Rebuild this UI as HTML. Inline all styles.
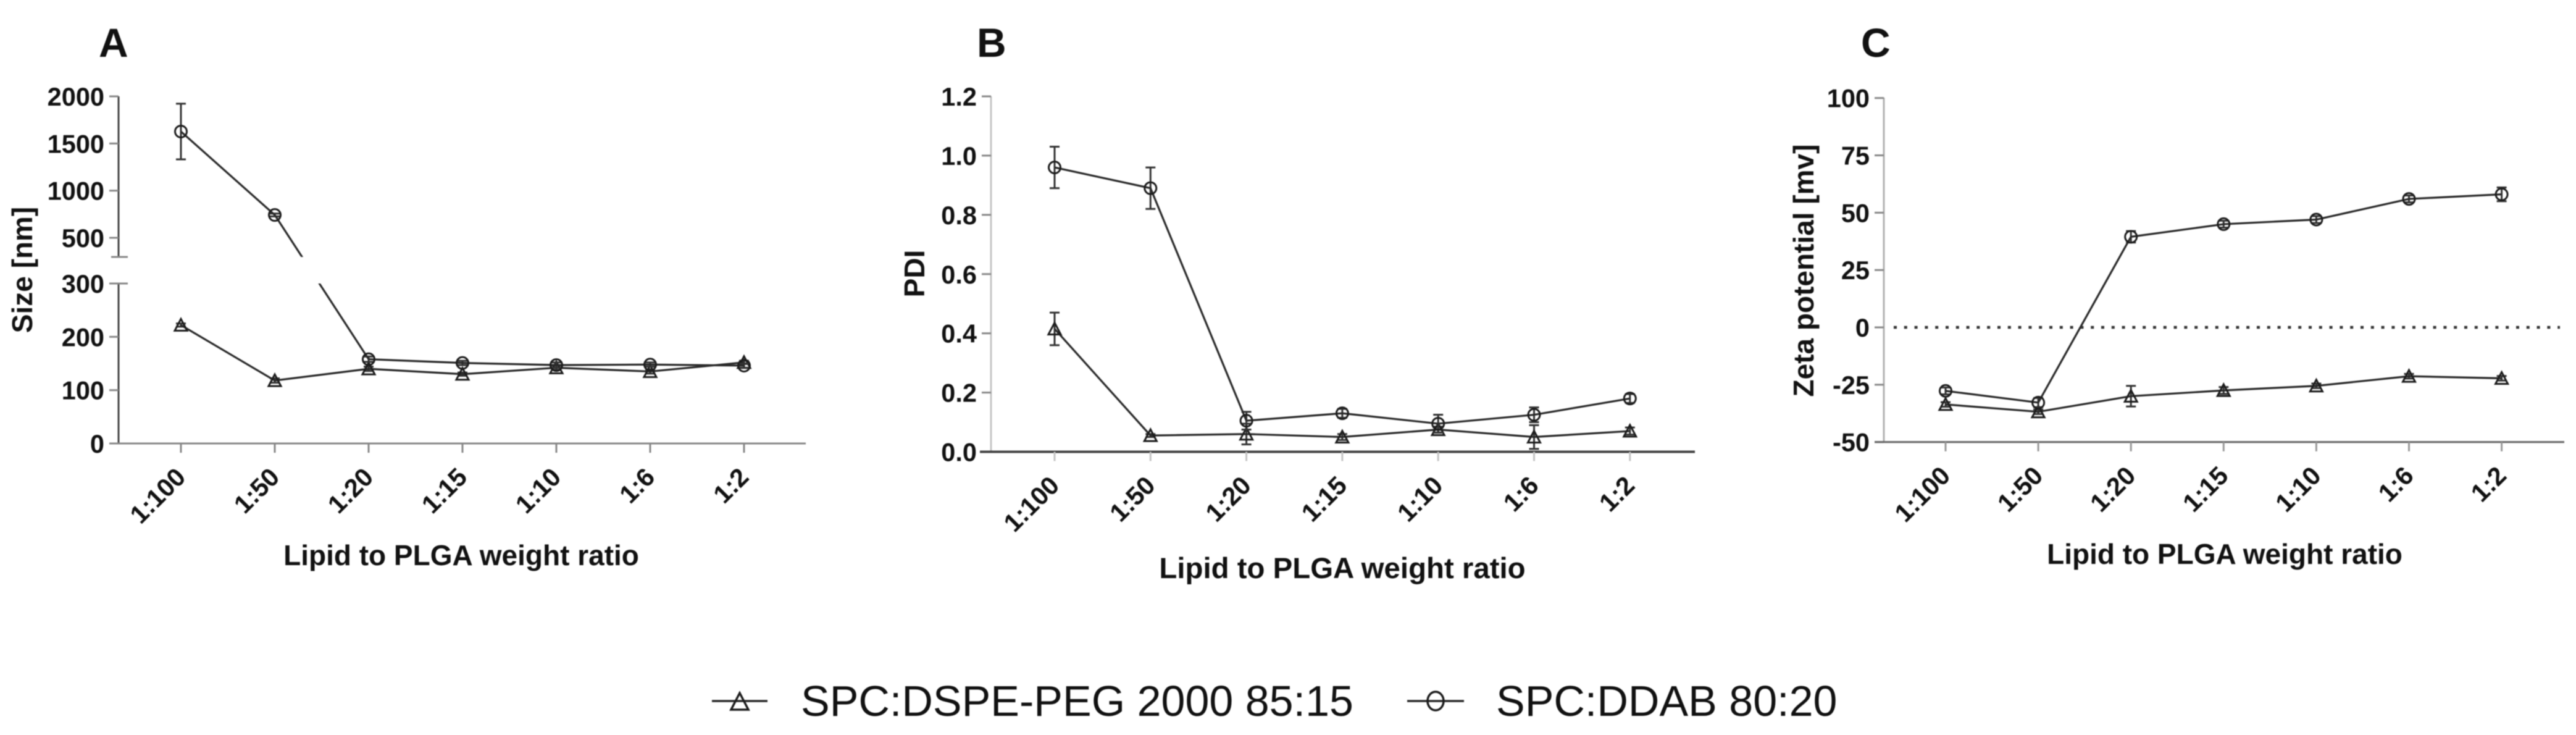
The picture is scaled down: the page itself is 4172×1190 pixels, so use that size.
<!DOCTYPE html>
<html lang="en">
<head>
<meta charset="utf-8">
<title>Lipid to PLGA weight ratio charts</title>
<style>
html,body{margin:0;padding:0;background:#fff;}
#figure{display:block;width:4172px;height:1190px;filter:blur(0.9px);}
text{font-family:"Liberation Sans",sans-serif;fill:#111;}
.tick-label{font-weight:bold;font-size:41.5px;}
.axis-title{font-weight:bold;font-size:46px;}
.panel-letter{font-weight:bold;font-size:66px;}
.legend-label{font-size:70px;}
</style>
</head>
<body>
<svg id="figure" xmlns="http://www.w3.org/2000/svg" width="4172" height="1190" viewBox="0 0 4172 1190">
<defs>
<clipPath id="clip-upper"><rect x="0" y="0" width="1400" height="416"/></clipPath>
<clipPath id="clip-lower"><rect x="0" y="459" width="1400" height="400"/></clipPath>
</defs>
</svg>
<script>
var categories = ['1:100', '1:50', '1:20', '1:15', '1:10', '1:6', '1:2'];
var seriesNames = ['SPC:DSPE-PEG 2000 85:15', 'SPC:DDAB 80:20'];

var sizePeg = [222, 118, 140, 130, 142, 135, 152];
var sizePegErr = [3, 4, 4, 3, 4, 4, 3];
var sizeDdab = [1627, 742, 158, 151, 147, 148, 146];
var sizeDdabErr = [295, 15, 5, 4, 5, 4, 4];
var sizeTicksUpper = [2000, 1500, 1000, 500];
var sizeTicksLower = [300, 200, 100, 0];

var pdiPeg = [0.415, 0.055, 0.06, 0.05, 0.075, 0.05, 0.07];
var pdiPegErr = [0.055, 0.005, 0.035, 0.01, 0.01, 0.04, 0.012];
var pdiDdab = [0.96, 0.89, 0.105, 0.13, 0.095, 0.125, 0.18];
var pdiDdabErr = [0.07, 0.07, 0.03, 0.015, 0.03, 0.025, 0.015];
var pdiTicks = [1.2, 1.0, 0.8, 0.6, 0.4, 0.2, 0.0];

var zetaPeg = [-33.6, -36.8, -30, -27.5, -25.5, -21.3, -22.2];
var zetaPegErr = [1, 1, 4.5, 1.5, 1, 1, 1];
var zetaDdab = [-27.7, -32.8, 39.5, 45, 47, 56, 58];
var zetaDdabErr = [1.5, 2, 2.5, 1.5, 1.5, 1.5, 3];
var zetaTicks = [100, 75, 50, 25, 0, -25, -50];

var svg = document.getElementById('figure');
var NS = 'http://www.w3.org/2000/svg';
var INK = '#2a2a2a';

function make(tag, attrs, parent) {
  var el = document.createElementNS(NS, tag);
  for (var k in attrs) { el.setAttribute(k, attrs[k]); }
  (parent || svg).appendChild(el);
  return el;
}
function line(x1, y1, x2, y2, color, width, parent) {
  return make('line', {x1: x1, y1: y1, x2: x2, y2: y2, stroke: color, 'stroke-width': width}, parent);
}
function label(str, x, y, cls, anchor, transform, parent) {
  var attrs = {x: x, y: y, 'class': cls, 'text-anchor': anchor};
  if (transform) { attrs.transform = transform; }
  var el = make('text', attrs, parent);
  el.textContent = str;
  return el;
}
function triangle(cx, cy, parent) {
  return make('path', {d: 'M' + cx + ' ' + (cy - 10) + 'L' + (cx + 10) + ' ' + (cy + 9) + 'L' + (cx - 10) + ' ' + (cy + 9) + 'Z',
    fill: 'none', stroke: '#1c1c1c', 'stroke-width': 3}, parent);
}
function circle(cx, cy, parent) {
  return make('circle', {cx: cx, cy: cy, r: 9.5, fill: 'none', stroke: '#1c1c1c', 'stroke-width': 3}, parent);
}

function drawXAxis(g, xOf, axisY, left, right, color, axisWidth, tickColor) {
  var axis = line(left, axisY, right, axisY, color, axisWidth, g);
  
  
  categories.forEach(function (cat, i) {
    var x = xOf(i);
    var tick = line(x, axisY, x, axisY + 15, tickColor, 3, g);
    
    
    var bx = x + 10, by = axisY + 57;
    var t = label(cat, bx, by, 'tick-label', 'end', 'rotate(-45 ' + bx + ' ' + by + ')', g);
    
    
  });
}
function drawYTicks(g, ticks, yOf, axisX, decimals) {
  ticks.forEach(function (v) {
    var y = yOf(v);
    var tick = line(axisX - 15, y, axisX, y, '#888', 3, g);
    
    
    var t = label(v.toFixed(decimals), axisX - 23, y + 15, 'tick-label', 'end', null, g);
    
    
  });
}
function drawErrors(g, vals, errs, xOf, yOf) {
  vals.forEach(function (v, i) {
    var x = xOf(i), y1 = yOf(v + errs[i]), y2 = yOf(v - errs[i]);
    var bar = make('path', {d: 'M' + (x - 8) + ' ' + y1 + 'H' + (x + 8) + 'M' + x + ' ' + y1 + 'V' + y2 + 'M' + (x - 8) + ' ' + y2 + 'H' + (x + 8),
      fill: 'none', stroke: '#333', 'stroke-width': 3}, g);
    
    
  });
}
function polyPoints(vals, xOf, yOf) {
  return vals.map(function (v, i) { return xOf(i) + ',' + yOf(v); }).join(' ');
}
function drawSeries(g, name, vals, errs, xOf, yOf, marker, clips) {
  var sg = make('g', {}, g);
  
  
  drawErrors(sg, vals, errs, xOf, yOf);
  (clips || [null]).forEach(function (clip) {
    var attrs = {points: polyPoints(vals, xOf, yOf), fill: 'none', stroke: INK, 'stroke-width': 3.2};
    if (clip) { attrs['clip-path'] = 'url(#' + clip + ')'; }
    var pl = make('polyline', attrs, sg);
    
    
  });
  vals.forEach(function (v, i) {
    var m = marker(xOf(i), yOf(v), sg);
    
    
  });
}
function drawCommonText(g, letter, letterX, xTitle, xTitleX, xTitleY, xTitleSize, yTitle, yTitleX, yTitleY) {
  var a = label(letter, letterX, 92, 'panel-letter', 'start', null, g);
  
  
  var b = label(xTitle, xTitleX, xTitleY, 'axis-title', 'middle', null, g);
  b.style.fontSize = xTitleSize + 'px';
  
  
  var c = label(yTitle, yTitleX, yTitleY, 'axis-title', 'middle', 'rotate(-90 ' + yTitleX + ' ' + yTitleY + ')', g);
  
  
}

/* Panel A: size, broken y axis */
(function () {
  var g = make('g', {});
  
  
  var axisX = 192;
  function xOf(i) { return 293 + i * 152; }
  function yUpper(v) { return 156 + (2000 - v) * (229 / 1500); }
  function yLower(v) { return 718 - v * (259 / 300); }
  function yOf(v) { return v >= 304 ? yUpper(v) : yLower(v); }
  drawCommonText(g, 'A', 160, 'Lipid to PLGA weight ratio', 747, 915, 46, 'Size [nm]', 52, 437);
  var upper = line(axisX, 156, axisX, 416, '#444', 3, g);
  
  
  var lower = line(axisX, 459, axisX, 718, '#444', 3, g);
  
  
  drawYTicks(g, sizeTicksUpper, yUpper, axisX, 0);
  drawYTicks(g, sizeTicksLower, yLower, axisX, 0);
  var b1 = line(180, 416, 207, 416, '#888', 3, g);
  
  
  var b2 = line(180, 459, 207, 459, '#888', 3, g);
  
  
  drawXAxis(g, xOf, 718, 177, 1305, '#888', 3, '#888');
  drawSeries(g, 'series-peg', sizePeg, sizePegErr, xOf, yOf, triangle, ['clip-lower']);
  drawSeries(g, 'series-ddab', sizeDdab, sizeDdabErr, xOf, yOf, circle, ['clip-upper', 'clip-lower']);
})();

/* Panel B: PDI */
(function () {
  var g = make('g', {});
  
  
  var axisX = 1605;
  function xOf(i) { return 1708 + i * 155.3; }
  function yOf(v) { return 731.5 - v * (575.5 / 1.2); }
  drawCommonText(g, 'B', 1582, 'Lipid to PLGA weight ratio', 2174, 936, 47.4, 'PDI', 1497, 443);
  var ax = line(axisX, 156, axisX, 731, '#c4c4c4', 3, g);
  
  
  drawYTicks(g, pdiTicks, yOf, axisX, 1);
  drawXAxis(g, xOf, 731.5, 1587, 2745, '#444', 4, '#c4c4c4');
  drawSeries(g, 'series-peg', pdiPeg, pdiPegErr, xOf, yOf, triangle);
  drawSeries(g, 'series-ddab', pdiDdab, pdiDdabErr, xOf, yOf, circle);
})();

/* Panel C: zeta potential */
(function () {
  var g = make('g', {});
  
  
  var axisX = 3051;
  function xOf(i) { return 3151 + i * 150.1; }
  function yOf(v) { return 715.7 - (v + 50) * (557 / 150); }
  drawCommonText(g, 'C', 3014, 'Lipid to PLGA weight ratio', 3603, 913, 46, 'Zeta potential [mv]', 2937, 438);
  var ax = line(axisX, 158, axisX, 715, '#b0b0b0', 3, g);
  
  
  drawYTicks(g, zetaTicks, yOf, axisX, 0);
  var zero = line(axisX + 16, yOf(0), 4146, yOf(0), '#333', 4.5, g);
  zero.setAttribute('stroke-dasharray', '5 11.8');
  
  
  drawXAxis(g, xOf, 715.7, 3036, 4153, '#666', 3.2, '#999');
  drawSeries(g, 'series-peg', zetaPeg, zetaPegErr, xOf, yOf, triangle);
  drawSeries(g, 'series-ddab', zetaDdab, zetaDdabErr, xOf, yOf, circle);
})();

/* Legend */
(function () {
  var g = make('g', {});
  
  
  var e1 = make('g', {}, g);
  
  
  line(1153, 1135, 1243, 1135, INK, 3.5, e1);
  make('path', {d: 'M1198 1122L1212 1149L1184 1149Z', fill: 'none', stroke: '#1c1c1c', 'stroke-width': 3.5}, e1);
  label(seriesNames[0], 1297, 1159, 'legend-label', 'start', null, e1);
  var e2 = make('g', {}, g);
  
  
  line(2279, 1135, 2371, 1135, INK, 3.5, e2);
  make('ellipse', {cx: 2325, cy: 1135, rx: 13, ry: 15, fill: 'none', stroke: '#1c1c1c', 'stroke-width': 3.5}, e2);
  label(seriesNames[1], 2423, 1159, 'legend-label', 'start', null, e2);
})();
</script>
</body>
</html>
